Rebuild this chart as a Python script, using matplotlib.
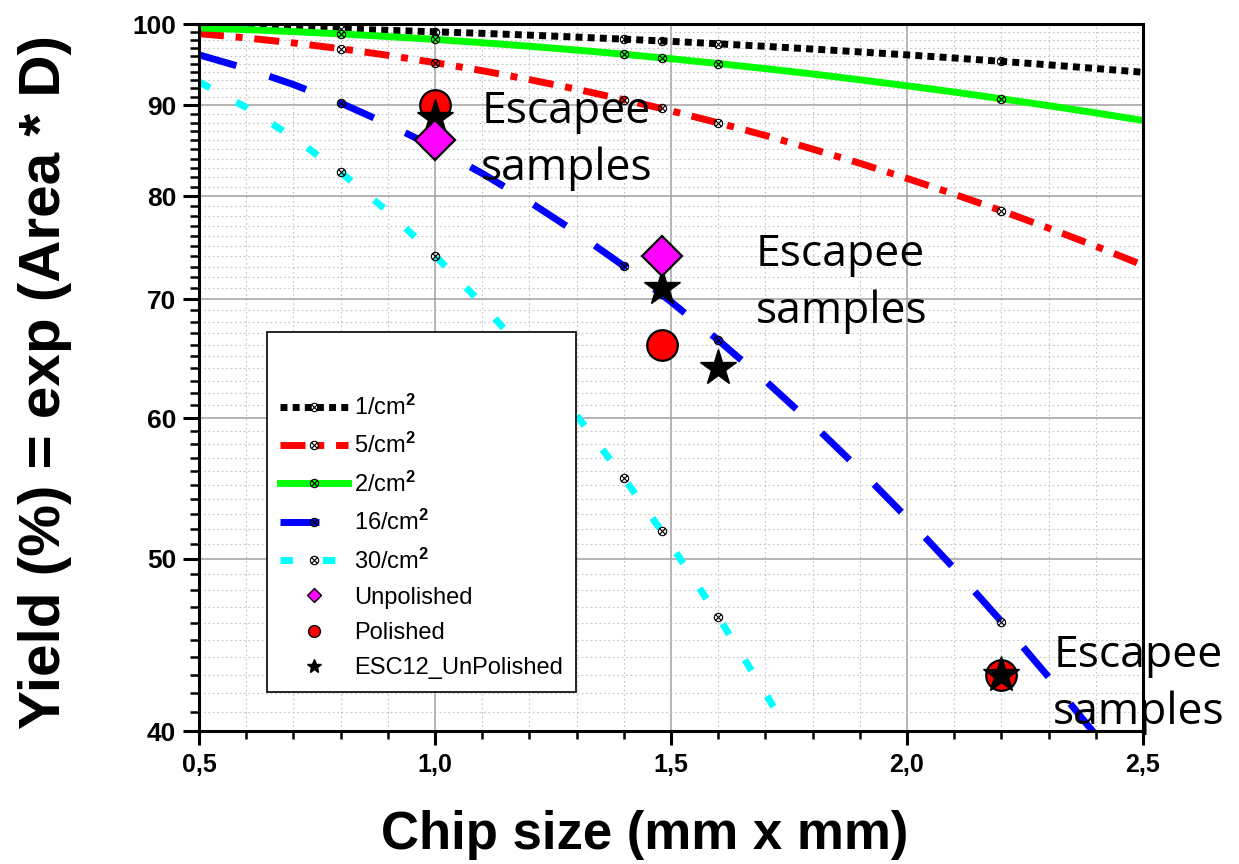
import matplotlib
matplotlib.use('Agg')
import matplotlib.pyplot as plt
from matplotlib.path import Path
from matplotlib.ticker import FixedLocator, MultipleLocator, FuncFormatter, NullFormatter

plt.rcParams['font.family'] = ['Liberation Sans', 'DejaVu Sans']
plt.rcParams['font.weight'] = 'bold'
plt.rcParams['mathtext.fontset'] = 'custom'
plt.rcParams['mathtext.rm'] = 'Liberation Sans'
plt.rcParams['mathtext.it'] = 'Liberation Sans:italic'
plt.rcParams['mathtext.bf'] = 'Liberation Sans:bold'

# chip edge length (mm)
chip = [0.5, 0.6, 0.7, 0.8, 0.9, 1.0, 1.1, 1.2, 1.3, 1.4, 1.48, 1.5,
        1.6, 1.7, 1.8, 1.9, 2.0, 2.1, 2.2, 2.3, 2.4, 2.5]
# points that carry a marker on each curve
marked_chip = [0.8, 1.0, 1.4, 1.48, 1.6, 2.2]

# yield (%) per defect density
yield_d1 = [99.75, 99.64, 99.51, 99.36, 99.19, 99.00, 98.80, 98.57, 98.32, 98.06, 97.83,
            97.78, 97.47, 97.15, 96.81, 96.45, 96.08, 95.69, 95.28, 94.85, 94.40, 93.94]
yield_d5 = [98.76, 98.22, 97.58, 96.85, 96.03, 95.12, 94.13, 93.05, 91.90, 90.66, 89.63,
            89.36, 87.98, 86.55, 85.04, 83.49, 81.87, 80.21, 78.51, 76.76, 74.98, 73.16]
yield_d2 = [99.50, 99.28, 99.02, 98.73, 98.39, 98.02, 97.61, 97.16, 96.68, 96.16, 95.71,
            95.60, 95.01, 94.38, 93.73, 93.03, 92.31, 91.56, 90.77, 89.96, 89.12, 88.25]
yield_d16 = [96.08, 94.40, 92.46, 90.27, 87.84, 85.21, 82.40, 79.42, 76.31, 73.08, 70.44,
             69.77, 66.39, 62.98, 59.55, 56.12, 52.73, 49.38, 46.10, 42.90, 39.79]
yield_d30 = [92.77, 89.76, 86.33, 82.53, 78.43, 74.08, 69.56, 64.92, 60.23, 55.54, 51.84,
             50.92, 46.39, 42.02, 37.83]

labels = ['1/cm$^2$', '5/cm$^2$', '2/cm$^2$', '16/cm$^2$', '30/cm$^2$']

# measured samples
unpol_x = [1.0, 1.48]
unpol_y = [86.0, 74.0]
pol_x = [1.0, 1.48, 2.2]
pol_y = [90.0, 66.0, 43.0]
esc_x = [1.0, 1.48, 1.6, 2.2]
esc_y = [88.5, 71.0, 64.0, 43.0]

# circle with a cross, as on the model curves
cross = Path([(-0.7, -0.7), (0.7, 0.7), (-0.7, 0.7), (0.7, -0.7)],
             [Path.MOVETO, Path.LINETO, Path.MOVETO, Path.LINETO])
otimes = Path.make_compound_path(Path.unit_circle(), cross)

fig = plt.figure(figsize=(12.39, 8.64), dpi=100)
ax = fig.add_axes([0.1606, 0.1539, 0.7619, 0.8183])

styles = [
    dict(color='black', dashes=(1, 0.75)),
    dict(color='#ff0000', dashes=(3.6, 1.7, 1, 1.7)),
    dict(color='#00ff00', linestyle='-'),
    dict(color='#0000ff', dashes=(5.6, 5)),
    dict(color='#00ffff', dashes=(1.8, 4.3)),
]
curves = [yield_d1, yield_d5, yield_d2, yield_d16, yield_d30]

for ys, lab, st in zip(curves, labels, styles):
    n = len(ys)
    idx = [chip.index(c) for c in marked_chip if chip.index(c) < n]
    ax.plot(chip[:n], ys, lw=5, marker=otimes, ms=6, mfc='none', mec='black',
            mew=0.8, markevery=idx, label=lab, **st)

ax.plot(unpol_x, unpol_y, 'D', ms=20, mfc='#ff00ff', mec='black', mew=1.6,
        label='Unpolished', zorder=5)
ax.plot(pol_x, pol_y, 'o', ms=22, mfc='#ff0000', mec='black', mew=1.6,
        label='Polished', zorder=3)
ax.plot(esc_x, esc_y, '*', ms=27, mfc='black', mec='black', mew=1,
        label='ESC12_UnPolished', zorder=4)

# annotations
note = dict(fontsize=32, family='Open Sans', weight='normal', ha='left',
            va='center', linespacing=1.38)
ax.text(1.098, 86.0, 'Escapee\nsamples', **note)
ax.text(1.68, 71.5, 'Escapee\nsamples', **note)
ax.text(2.31, 42.5, 'Escapee\nsamples', **note)

ax.set_yscale('log')
ax.set_xlim(0.5, 2.5)
ax.set_ylim(40, 100)

ax.yaxis.set_major_locator(FixedLocator([40, 50, 60, 70, 80, 90, 100]))
ax.yaxis.set_minor_locator(FixedLocator([v for v in range(41, 100) if v % 10]))
ax.yaxis.set_major_formatter(FuncFormatter(lambda v, p: '%d' % v))
ax.yaxis.set_minor_formatter(NullFormatter())
ax.xaxis.set_major_locator(MultipleLocator(0.5))
ax.xaxis.set_minor_locator(MultipleLocator(0.1))
ax.xaxis.set_major_formatter(FuncFormatter(lambda v, p: ('%.1f' % v).replace('.', ',')))

ax.grid(which='major', color='#a0a0a0', lw=1.1, ls='-')
ax.grid(which='minor', color='#c4c4c4', lw=0.8, ls=(0, (1.5, 2.5)))
ax.set_axisbelow(True)

ax.tick_params(which='both', direction='out', top=False, right=False)
ax.tick_params(axis='y', which='major', length=11.5, width=2.2, pad=5, labelsize=19)
ax.tick_params(axis='y', which='minor', length=6.5, width=1.8)
ax.tick_params(axis='x', which='major', length=10, width=2.2, pad=6, labelsize=18)
ax.tick_params(axis='x', which='minor', length=5.5, width=1.8)
for s in ax.spines.values():
    s.set_linewidth(2.2)

leg = ax.legend(loc='lower left', bbox_to_anchor=(0.072, 0.055), borderaxespad=0,
                prop={'family': 'Liberation Sans', 'weight': 'normal', 'size': 17},
                title=' ', title_fontproperties={'size': 27},
                handlelength=2.9, handletextpad=0.25, labelspacing=0.56,
                borderpad=0.55, fancybox=False, edgecolor='black', framealpha=1,
                numpoints=1)
leg.get_frame().set_linewidth(1.2)
for h, ms in zip(leg.legend_handles[5:], [7, 8.5, 10]):
    h.set_markersize(ms)
    h.set_markeredgewidth(1)

fig.text(0.0363, 0.558, 'Yield (%) = exp (Area * D)', rotation=90,
         ha='center', va='center', fontsize=42, weight='bold')
fig.text(0.5206, 0.0336, 'Chip size (mm x mm)', ha='center', va='center',
         fontsize=38, weight='bold')

fig.savefig('out.png', dpi=100)
